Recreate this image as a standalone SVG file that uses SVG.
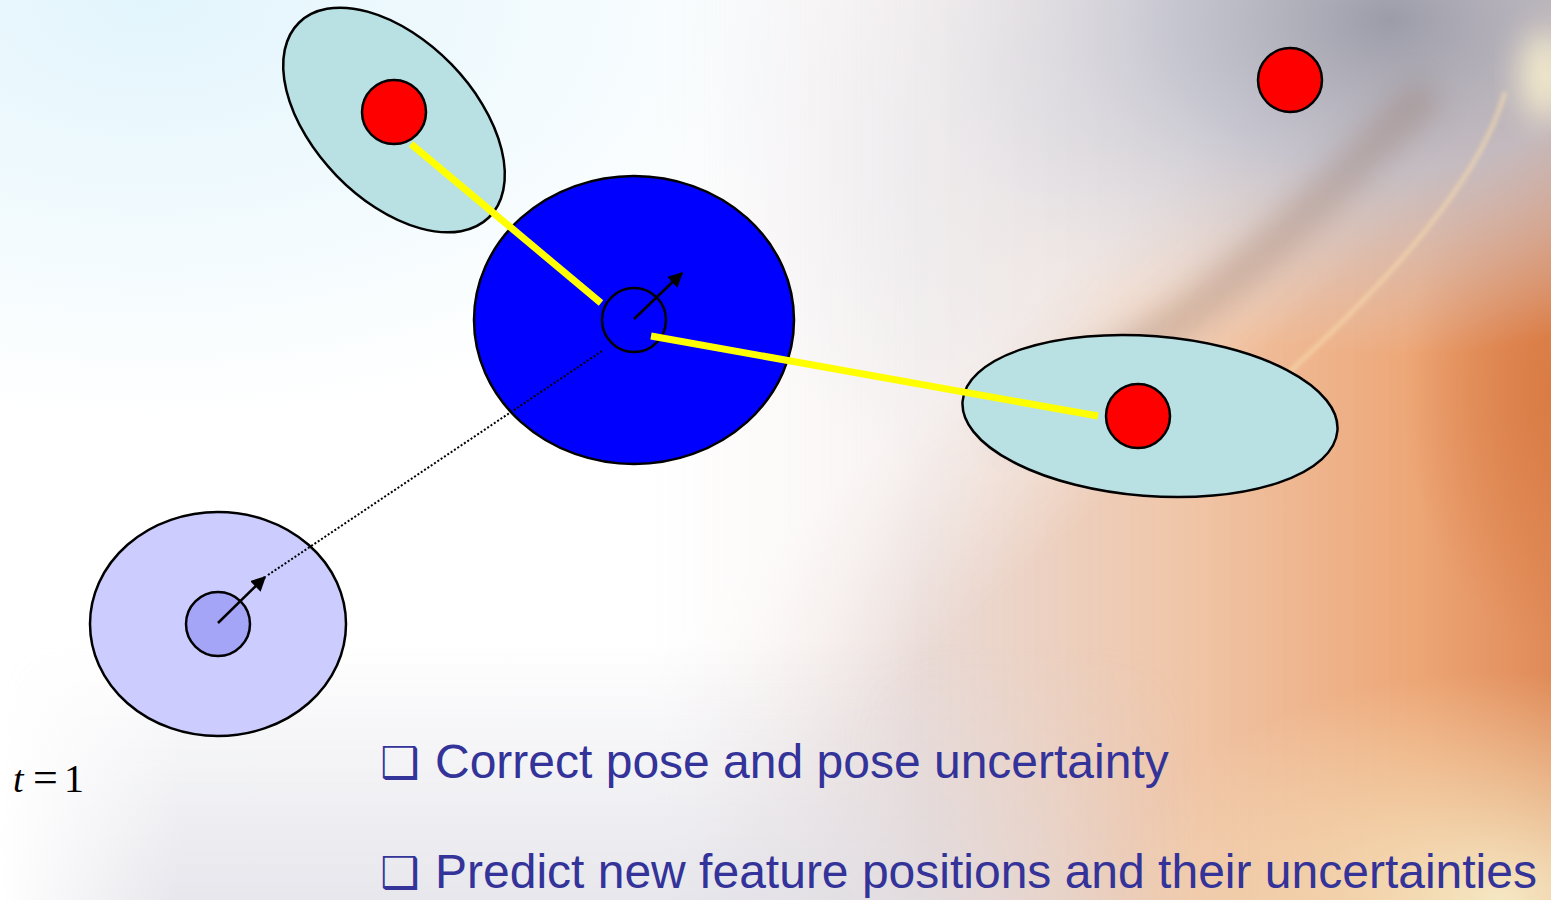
<svg xmlns="http://www.w3.org/2000/svg" width="1551" height="900" viewBox="0 0 1551 900">
<style>
.outline{stroke:#000;stroke-width:2.5}
.feat{fill:#ff0000;stroke:#000;stroke-width:2.5}
.unc{fill:#b9e0e3;stroke:#000;stroke-width:2.5}
.meas{stroke:#ffff00;stroke-width:7;fill:none}
.head{stroke:#000;stroke-width:2.5;fill:none;marker-end:url(#ah)}
.bul{font-family:"Liberation Sans",Arial,sans-serif;font-size:48px;fill:#333399}
.box{font-family:"DejaVu Sans",sans-serif;font-size:44px;fill:#333399}
.math{font-family:"Liberation Serif","Times New Roman",serif;fill:#000}
</style>
<defs>
<marker id="ah" viewBox="0 0 10 10" refX="9" refY="5" markerWidth="6" markerHeight="6" markerUnits="strokeWidth" orient="auto">
<path d="M0,0 L10,5 L0,10 z" fill="#000"/>
</marker>
<radialGradient id="cyan" gradientUnits="userSpaceOnUse" cx="150" cy="0" r="700" gradientTransform="translate(150 0) scale(1 0.6) translate(-150 0)">
<stop offset="0" stop-color="#e2f5fc" stop-opacity="1"/>
<stop offset="1" stop-color="#e2f5fc" stop-opacity="0"/>
</radialGradient>
<radialGradient id="bluewhite" gradientUnits="userSpaceOnUse" cx="1050" cy="150" r="350">
<stop offset="0" stop-color="#e6ecf6" stop-opacity="0.8"/>
<stop offset="1" stop-color="#e6ecf6" stop-opacity="0"/>
</radialGradient>
<linearGradient id="warm" gradientUnits="userSpaceOnUse" x1="650" y1="0" x2="1551" y2="0">
<stop offset="0" stop-color="#f0e0dc" stop-opacity="0"/>
<stop offset="0.3" stop-color="#e6d4cf" stop-opacity="0.85"/>
<stop offset="0.6" stop-color="#efc2a2" stop-opacity="0.95"/>
<stop offset="0.85" stop-color="#eda676"/>
<stop offset="1" stop-color="#e08a58"/>
</linearGradient>
<radialGradient id="deep" gradientUnits="userSpaceOnUse" cx="1560" cy="390" r="260" gradientTransform="translate(1560 390) scale(0.6 1) translate(-1560 -390)">
<stop offset="0" stop-color="#d8783f" stop-opacity="0.85"/>
<stop offset="1" stop-color="#d8783f" stop-opacity="0"/>
</radialGradient>
<linearGradient id="diag" gradientUnits="userSpaceOnUse" x1="1200" y1="150" x2="1330" y2="290">
<stop offset="0" stop-color="#5a5a5a"/>
<stop offset="1" stop-color="#fff"/>
</linearGradient>
<mask id="wm"><rect x="0" y="0" width="1551" height="900" fill="url(#diag)"/></mask>
<radialGradient id="gray" gradientUnits="userSpaceOnUse" cx="1390" cy="20" r="480" gradientTransform="translate(1390 20) scale(1 0.7) translate(-1390 -20)">
<stop offset="0" stop-color="#9c9ca8" stop-opacity="1"/>
<stop offset="0.45" stop-color="#bec0ce" stop-opacity="0.85"/>
<stop offset="1" stop-color="#d8dcea" stop-opacity="0"/>
</radialGradient>
<radialGradient id="cream" gradientUnits="userSpaceOnUse" cx="1500" cy="900" r="380" gradientTransform="translate(1500 900) scale(1 0.6) translate(-1500 -900)">
<stop offset="0" stop-color="#f6ecc8" stop-opacity="0.95"/>
<stop offset="1" stop-color="#f6ecc8" stop-opacity="0"/>
</radialGradient>
<linearGradient id="bottom" gradientUnits="userSpaceOnUse" x1="0" y1="640" x2="0" y2="900">
<stop offset="0" stop-color="#dcdde6" stop-opacity="0"/>
<stop offset="1" stop-color="#dcdce4" stop-opacity="0.7"/>
</linearGradient>
<linearGradient id="bottomX" gradientUnits="userSpaceOnUse" x1="0" y1="0" x2="1200" y2="0">
<stop offset="0" stop-color="#fff" stop-opacity="0"/>
<stop offset="0.15" stop-color="#fff" stop-opacity="1"/>
<stop offset="0.7" stop-color="#fff" stop-opacity="1"/>
<stop offset="1" stop-color="#fff" stop-opacity="0"/>
</linearGradient>
<mask id="bm"><rect x="0" y="0" width="1551" height="900" fill="url(#bottomX)"/></mask>
<filter id="blur20" x="-50%" y="-50%" width="200%" height="200%"><feGaussianBlur stdDeviation="16"/></filter>
<filter id="blur3" x="-20%" y="-20%" width="140%" height="140%"><feGaussianBlur stdDeviation="2"/></filter>
</defs>

<g id="background">
<rect x="0" y="0" width="1551" height="900" fill="#ffffff"/>
<rect x="0" y="0" width="1551" height="900" fill="url(#cyan)"/>
<rect x="0" y="0" width="1551" height="900" fill="url(#bluewhite)"/>
<g mask="url(#wm)">
<rect x="0" y="0" width="1551" height="900" fill="url(#warm)"/>
<rect x="0" y="0" width="1551" height="900" fill="url(#deep)"/>
</g>
<rect x="0" y="0" width="1551" height="900" fill="url(#gray)"/>
<rect x="0" y="0" width="1551" height="900" fill="url(#cream)"/>
<rect x="0" y="640" width="1551" height="260" fill="url(#bottom)" mask="url(#bm)"/>
<path d="M1430,90 L1340,180 Q1260,260 1180,320 L1000,430" stroke="#8e6a58" stroke-width="34" fill="none" opacity="0.35" filter="url(#blur20)"/>
<path d="M1505,92 Q1475,200 1300,362 L1270,392" stroke="#f8dcae" stroke-width="4" fill="none" opacity="0.7" filter="url(#blur3)"/>
<ellipse cx="1545" cy="75" rx="25" ry="45" fill="#fff6d0" opacity="0.8" filter="url(#blur20)"/>
</g>

<g id="landmark1-uncertainty">
<ellipse class="unc" cx="394" cy="120" rx="136" ry="80" transform="rotate(45.8 394 120)"/>
</g>
<g id="robot-uncertainty">
<ellipse class="outline" fill="#0000ff" cx="634" cy="320" rx="160" ry="144"/>
</g>
<g id="landmark2-uncertainty">
<ellipse class="unc" cx="1150" cy="416" rx="188" ry="80" transform="rotate(4.5 1150 416)"/>
</g>
<g id="prev-uncertainty">
<ellipse class="outline" fill="#ccccff" cx="218" cy="624" rx="128" ry="112"/>
</g>
<g id="prev-robot">
<circle class="outline" fill="#a5a5f8" cx="218" cy="624" r="32"/>
</g>
<g id="robot">
<circle class="outline" fill="#0000ff" cx="634" cy="320" r="32"/>
</g>

<g id="connectors">
<line x1="268" y1="575" x2="602" y2="351" stroke="#000" stroke-width="2" stroke-dasharray="2 2"/>
<line class="meas" x1="411" y1="144" x2="601" y2="303"/>
<line class="meas" x1="651" y1="336" x2="1098" y2="416"/>
<line class="head" x1="634" y1="319" x2="682" y2="273"/>
<line class="head" x1="218" y1="623" x2="265" y2="577"/>
</g>

<g id="landmark1"><circle class="feat" cx="394" cy="112" r="32"/></g>
<g id="landmark2"><circle class="feat" cx="1138" cy="416" r="32"/></g>
<g id="landmark3"><circle class="feat" cx="1290" cy="80" r="32"/></g>

<g id="time-label">
<text class="math" x="13" y="792" font-size="38" font-style="italic">t</text>
<text class="math" x="33" y="792" font-size="44">=</text>
<text class="math" x="64" y="792" font-size="40">1</text>
</g>

<g id="bullets">
<text class="box" x="380" y="778">❑</text>
<text class="bul" x="435" y="778">Correct pose and pose uncertainty</text>
<text class="box" x="380" y="888">❑</text>
<text class="bul" x="435" y="888">Predict new feature positions and their uncertainties</text>
</g>
</svg>
